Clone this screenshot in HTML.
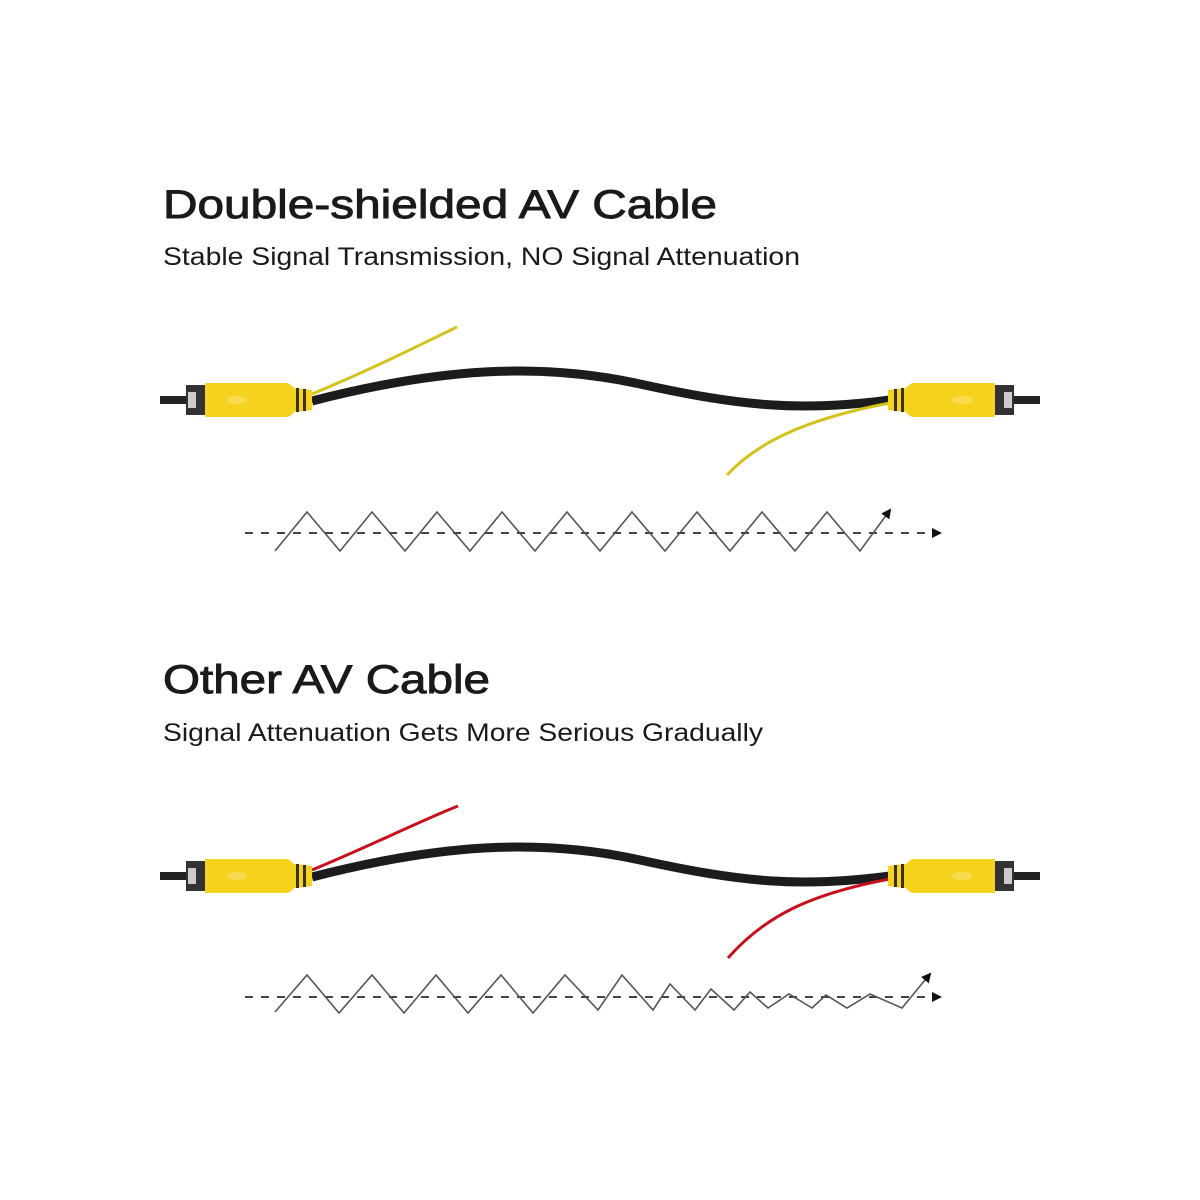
<!DOCTYPE html>
<html><head><meta charset="utf-8"><style>
html,body{margin:0;padding:0;background:#fff;}
svg{display:block;}
text{font-family:"Liberation Sans",sans-serif;fill:#1a1a1a;}
</style></head><body>
<svg width="1200" height="1200" viewBox="0 0 1200 1200" xmlns="http://www.w3.org/2000/svg">
<defs>
<marker id="ah" markerWidth="10" markerHeight="10" refX="8" refY="5" orient="auto" markerUnits="userSpaceOnUse">
<path d="M0,0 L10,5 L0,10 Z" fill="#111"/></marker>
<g id="plugL">
<rect x="160" y="396" width="32" height="8" fill="#222"/>
<rect x="186" y="385" width="20" height="30" fill="#333"/>
<rect x="188" y="392" width="8" height="16" fill="#ccc"/>
<path d="M205,383 L288,383 Q292,386 294,388 L312,390 L312,410 L294,412 Q292,415 288,417 L205,417 Z" fill="#f5d21e"/>
<rect x="296" y="388" width="3" height="24" fill="#3a3000"/>
<rect x="303" y="389" width="3" height="22" fill="#3a3000"/>
<ellipse cx="237" cy="400" rx="10" ry="4" fill="#f7dc50"/>
</g>
<g id="plugR">
<rect x="1008" y="396" width="32" height="8" fill="#222"/>
<rect x="994" y="385" width="20" height="30" fill="#333"/>
<rect x="1004" y="392" width="8" height="16" fill="#ccc"/>
<path d="M995,383 L912,383 Q908,386 906,388 L888,390 L888,410 L906,412 Q908,415 912,417 L995,417 Z" fill="#f5d21e"/>
<rect x="894" y="389" width="3" height="22" fill="#3a3000"/>
<rect x="901" y="388" width="3" height="24" fill="#3a3000"/>
<ellipse cx="962" cy="400" rx="10" ry="4" fill="#f7dc50"/>
</g>
<path id="cable" d="M312,401 C440,368 540,362 640,384 S800,412 890,400" fill="none" stroke="#1c1c1c" stroke-width="9"/>
</defs>

<text x="163" y="218" font-size="40" stroke="#1a1a1a" stroke-width="0.9" textLength="554" lengthAdjust="spacingAndGlyphs">Double-shielded AV Cable</text>
<text x="163" y="265" font-size="25" fill="#333" textLength="637" lengthAdjust="spacingAndGlyphs">Stable Signal Transmission, NO Signal Attenuation</text>

<path d="M312,394 C370,370 420,345 457,327" fill="none" stroke="#d4c21a" stroke-width="3"/>
<use href="#cable"/>
<path d="M890,403 C800,420 755,445 727,475" fill="none" stroke="#d4c21a" stroke-width="3"/>
<use href="#plugL"/>
<use href="#plugR"/>

<line x1="245" y1="533" x2="940" y2="533" stroke="#444" stroke-width="2" stroke-dasharray="8,8" marker-end="url(#ah)"/>
<polyline points="275,551 307,512 340,551 372,512 405,551 437,512 470,551 502,512 535,551 567,512 600,551 632,512 665,551 697,512 730,551 762,512 795,551 827,512 860,551 890,510" fill="none" stroke="#555" stroke-width="1.6" marker-end="url(#ah)"/>

<text x="163" y="693" font-size="40" stroke="#1a1a1a" stroke-width="0.9" textLength="327" lengthAdjust="spacingAndGlyphs">Other AV Cable</text>
<text x="163" y="741" font-size="25" fill="#333" textLength="600" lengthAdjust="spacingAndGlyphs">Signal Attenuation Gets More Serious Gradually</text>

<g transform="translate(0,476)">
<path d="M312,394 C370,370 420,345 458,330" fill="none" stroke="#c8101c" stroke-width="3"/>
<use href="#cable"/>
<path d="M890,403 C810,418 765,440 728,482" fill="none" stroke="#c8101c" stroke-width="3"/>
<use href="#plugL"/>
<use href="#plugR"/>
</g>

<line x1="245" y1="997" x2="940" y2="997" stroke="#444" stroke-width="2" stroke-dasharray="8,8" marker-end="url(#ah)"/>
<polyline points="275,1012 307,975 339,1013 372,975 404,1013 436,975 468,1013 501,975 533,1013 565,975 598,1010 622,975 653,1010 670,984 695,1010 711,989 734,1010 750,992 768,1008 789,994 812,1008 826,995 847,1008 870,994 902,1008 930,974" fill="none" stroke="#555" stroke-width="1.6" marker-end="url(#ah)"/>
</svg>
</body></html>
